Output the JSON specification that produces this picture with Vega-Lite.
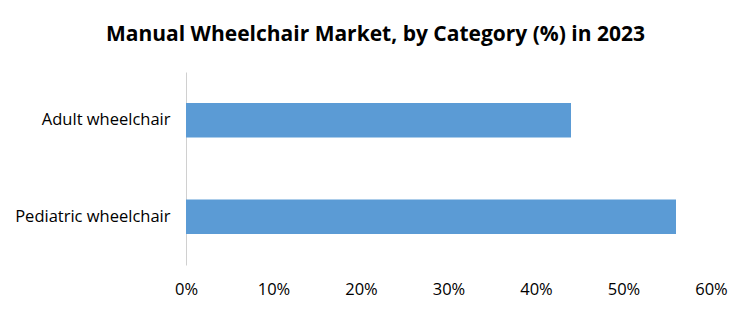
{
  "$schema": "https://vega.github.io/schema/vega-lite/v6.json",
  "autosize": {"type": "none"},
  "width": 525,
  "height": 193,
  "padding": {"left": 186, "top": 72, "right": 39, "bottom": 49},
  "background": "white",
  "title": {
    "text": "Manual Wheelchair Market, by Category (%) in 2023",
    "font": "Open Sans",
    "fontSize": 21,
    "fontWeight": "bold",
    "color": "#000000",
    "anchor": "middle",
    "dx": -73,
    "offset": 27
  },
  "data": {
    "values": [
      {"category": "Adult wheelchair", "share": 44},
      {"category": "Pediatric wheelchair", "share": 56}
    ]
  },
  "mark": {"type": "bar", "color": "#5B9BD5"},
  "encoding": {
    "y": {
      "field": "category",
      "type": "nominal",
      "sort": null,
      "scale": {"paddingInner": 0.64, "paddingOuter": 0.32},
      "axis": {
        "title": null,
        "ticks": false,
        "domainColor": "#d0d0d0",
        "domainWidth": 1,
        "labelFont": "Open Sans",
        "labelFontSize": 16.5,
        "labelColor": "#000000",
        "labelPadding": 16
      }
    },
    "x": {
      "field": "share",
      "type": "quantitative",
      "scale": {"domain": [0, 60], "nice": false},
      "axis": {
        "title": null,
        "values": [0, 10, 20, 30, 40, 50, 60],
        "labelExpr": "datum.value + '%'",
        "grid": false,
        "domain": false,
        "ticks": false,
        "labelFont": "Open Sans",
        "labelFontSize": 16.5,
        "labelColor": "#000000",
        "labelPadding": 16,
        "labelFlush": false
      }
    }
  },
  "config": {"view": {"stroke": null}}
}
